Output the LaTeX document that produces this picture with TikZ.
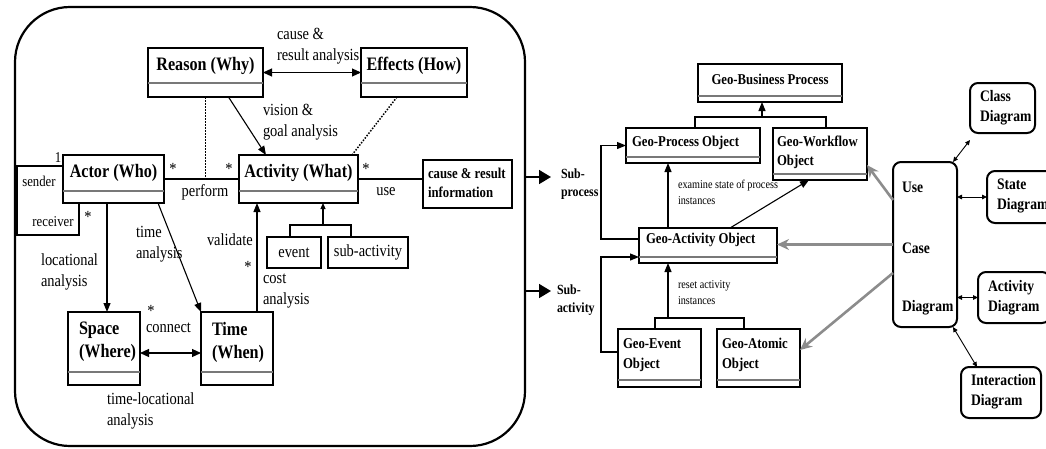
\documentclass[tikz,border=0pt]{standalone}
\usepackage{fontspec}
\newfontfamily\rf[FakeStretch=0.85]{Liberation Serif}
\usetikzlibrary{arrows.meta}
\definecolor{dgray}{RGB}{120,120,120}
\definecolor{agray}{RGB}{140,140,140}
\begin{document}
\begin{tikzpicture}[x=1pt,y=-1pt,
  every node/.style={inner sep=0pt, outer sep=0pt},
  lbox/.style={draw, line width=1.1pt, fill=white},
  gbox/.style={draw, line width=2.6pt, fill=white},
  rbox/.style={draw, line width=2pt, rounded corners=8pt, fill=white},
  frame/.style={draw, line width=2.2pt, rounded corners=55pt},
  divl/.style={dgray, line width=1.2pt},
  cname/.style={font=\rf\bfseries\fontsize{19}{23}\selectfont, align=left},
  lbl/.style={font=\rf\fontsize{17}{21}\selectfont, align=left},
  slbl/.style={font=\rf\fontsize{15}{18}\selectfont, align=left},
  sbold/.style={font=\rf\bfseries\fontsize{15}{19}\selectfont, align=left},
  gname/.style={font=\rf\bfseries\fontsize{15}{19.5}\selectfont, align=left},
  glbl/.style={font=\rf\fontsize{12}{16}\selectfont, align=left},
  rname/.style={font=\rf\bfseries\fontsize{16}{20}\selectfont, align=left},
  subl/.style={font=\rf\bfseries\fontsize{14}{17.5}\selectfont, align=left},
  conn/.style={line width=1.1pt},
  tri/.style={conn, -{Triangle[length=9pt,width=7pt]}},
  stri/.style={conn, -{Triangle[length=6pt,width=5pt]}},
  dtri/.style={conn, {Triangle[length=9pt,width=8pt]}-{Triangle[length=9pt,width=8pt]}},
  bigtri/.style={line width=1.6pt, -{Triangle[length=12pt,width=14pt]}},
  dotl/.style={line width=1.5pt, dash pattern=on 1.5pt off 1.5pt},
  garr/.style={agray, line width=2.6pt, -{Stealth[length=12pt,width=11pt]}},
  thin2/.style={line width=0.9pt, {Triangle[length=5pt,width=4.5pt]}-{Triangle[length=5pt,width=4.5pt]}}
]
\useasboundingbox (0,0) rectangle (1046,448);
\clip (0,0) rectangle (1046,448);

% ---------- left frame ----------
\node[frame, minimum width=510, minimum height=439] (frame) at (270,226.5) {};

% ---------- left boxes ----------
\node[lbox, minimum width=115, minimum height=49] (reason) at (205.5,72.5) {};
\node[lbox, minimum width=106, minimum height=49] (effects) at (414,72.5) {};
\node[lbox, minimum width=101, minimum height=48] (actor) at (113.5,179) {};
\node[lbox, minimum width=119, minimum height=48] (activity) at (298.5,179) {};
\node[lbox, minimum width=89, minimum height=48] (cri) at (467.5,184) {};
\node[lbox, minimum width=72, minimum height=73] (space) at (104,348.5) {};
\node[lbox, minimum width=72, minimum height=73] (time) at (237,348.5) {};
\node[lbox, minimum width=54, minimum height=31, lbl] (event) at (294,252.5) {event};
\node[lbox, minimum width=80, minimum height=31, lbl] (subact) at (368,252.5) {sub-activity};

\draw[divl] (148,83) -- (263,83);
\draw[divl] (361,83) -- (467,83);
\draw[divl] (63,191) -- (164,191);
\draw[divl] (239,191) -- (358,191);
\draw[divl] (68,372) -- (140,372);
\draw[divl] (201,372) -- (273,372);

\node[cname] (reasonT) at (205.5,66) {Reason (Why)};
\node[cname] (effectsT) at (414,66) {Effects (How)};
\node[cname] (actorT) at (113.5,173) {Actor (Who)};
\node[cname] (activityT) at (298.5,173) {Activity (What)};
\node[sbold, anchor=west] (criT) at (428,183) {cause \& result\\information};
\node[cname, anchor=west] (spaceT) at (79,342) {Space\\(Where)};
\node[cname, anchor=west] (timeT) at (212,342) {Time\\(When)};

% ---------- left labels ----------
\node[lbl, anchor=west] (lcause) at (277,46) {cause \&\\result analysis};
\node[lbl, anchor=west] (lvision) at (263,122) {vision \&\\goal analysis};
\node[lbl] (lperform) at (205,192) {perform};
\node[lbl] (luse) at (386,192) {use};
\node[lbl] (st1) at (173,169) {*};
\node[lbl] (st2) at (229,169) {*};
\node[lbl] (st3) at (366,169) {*};
\node[slbl] (lone) at (58,158) {1};
\node[slbl] (lsender) at (39,181) {sender};
\node[slbl] (lreceiver) at (53,222) {receiver};
\node[lbl] (st4) at (88,217) {*};
\node[lbl, anchor=west] (ltime) at (136,244) {time\\analysis};
\node[lbl, anchor=west] (lloc) at (41,272) {locational\\analysis};
\node[lbl] (st5) at (151,311) {*};
\node[lbl, anchor=west] (lconnect) at (146,328) {connect};
\node[lbl, anchor=west] (lvalidate) at (207,240) {validate};
\node[lbl] (st6) at (248,267) {*};
\node[lbl, anchor=west] (lcost) at (263,291) {cost\\analysis};
\node[lbl, anchor=west] (ltl) at (107,411) {time-locational\\analysis};

% ---------- left connectors ----------
\draw[dtri] (reason.east) -- (effects.west);
\draw[dotl] (reason.south) -- (reason.south |- actor.east);
\draw[tri] ([xshift=80.5pt]reason.south west) -- ([xshift=27pt]activity.north west);
\draw[dotl] ([xshift=36pt]effects.south west) -- ([xshift=113pt]activity.north west);
\draw[conn] (actor.east) -- (activity.west);
\draw[conn] (activity.east) -- (activity.east -| cri.west);
\coordinate (la) at (17,166);
\coordinate (lb) at (79,235);
\draw[conn] ([yshift=-11pt]actor.north west) -- (la) |- (lb) -- (lb |- actor.south);
\draw[tri] ([xshift=44pt]actor.south west) -- ([xshift=39pt]space.north west);
\draw[tri] ([xshift=-6pt]actor.south east) -- (time.north west);
\draw[tri] ([xshift=56pt]time.north west) -- ([xshift=18pt]activity.south west);
\draw[dtri] ([yshift=-4.5pt]space.east) -- ([yshift=-4.5pt]time.west);
\coordinate (j1) at (323,225);
\draw[conn] ([xshift=-4pt]event.north) |- (j1);
\draw[conn] ([xshift=-17pt]subact.north) |- (j1);
\draw[stri] (j1) -- (j1 |- activity.south);

% ---------- sub arrows ----------
\coordinate (spEnd) at (551,177);
\coordinate (saEnd) at (551,291);
\draw[bigtri] ([yshift=49.5pt]frame.east) -- (spEnd);
\draw[bigtri] ([yshift=-64.5pt]frame.east) -- (saEnd);
\node[subl, anchor=west] (lsubp) at (561,184) {Sub-\\process};
\node[subl, anchor=west] (lsuba) at (557,300) {Sub-\\activity};

% ---------- center boxes ----------
\node[gbox, minimum width=144, minimum height=38] (gbp) at (770,83) {};
\node[gbox, minimum width=134, minimum height=35] (gpo) at (693,145.5) {};
\node[gbox, minimum width=94, minimum height=52] (gwo) at (820,154) {};
\node[gbox, minimum width=138, minimum height=35] (gao) at (708,245.5) {};
\node[gbox, minimum width=83, minimum height=58] (geo) at (659.5,358) {};
\node[gbox, minimum width=83, minimum height=58] (gato) at (758.5,358) {};

\draw[divl] (698,96) -- (842,96);
\draw[divl] (626,157) -- (760,157);
\draw[divl] (773,174) -- (867,174);
\draw[divl] (639,257) -- (777,257);
\draw[divl] (618,380) -- (701,380);
\draw[divl] (717,380) -- (800,380);

\node[gname] (gbpT) at (770,79) {Geo-Business Process};
\node[gname, anchor=west] (gpoT) at (632,143) {Geo-Process Object};
\node[gname, anchor=west] (gwoT) at (777,152.5) {Geo-Workflow\\Object};
\node[gname, anchor=west] (gaoT) at (646,240) {Geo-Activity Object};
\node[gname, anchor=west] (geoT) at (623,355) {Geo-Event\\Object};
\node[gname, anchor=west] (gatoT) at (722,355) {Geo-Atomic\\Object};

\node[glbl, anchor=west] (lexam) at (678,192) {examine state of process\\instances};
\node[glbl, anchor=west] (lreset) at (678,293) {reset activity\\instances};

% ---------- center connectors ----------
\coordinate (j2) at (762,117);
\draw[conn] ([xshift=2pt]gpo.north) |- (j2);
\draw[conn] ([xshift=6pt]gwo.north) |- (j2);
\draw[tri] (j2) -- (j2 |- gbp.south);
\draw[tri] ([xshift=29pt]gao.north west) -- ([xshift=42pt]gpo.south west);
\draw[tri] ([xshift=91pt]gao.north west) -- ([xshift=36pt]gwo.south west);
\coordinate (lc) at (601,239);
\draw[tri] ([yshift=-11pt]gao.north west) -- (lc) |- (gpo.west);
\coordinate (ld) at (601,352);
\draw[tri] ([yshift=-23pt]geo.north west) -- (ld) |- ([yshift=-29pt]gao.north west);
\coordinate (j3) at (668,318);
\draw[conn] ([xshift=-4.5pt]geo.north) |- (j3);
\draw[conn] ([xshift=-14.5pt]gato.north) |- (j3);
\draw[tri] (j3) -- (j3 |- gao.south);

% ---------- right boxes ----------
\node[rbox, minimum width=64, minimum height=165] (uc) at (925,244.5) {};
\node[rname, anchor=west] (ucT1) at (902,187) {Use};
\node[rname, anchor=west] (ucT2) at (902,248) {Case};
\node[rname, anchor=west] (ucT3) at (902,308) {Diagram};
\node[rbox, minimum width=65, minimum height=50] (cd) at (1002.5,108) {};
\node[rname, anchor=west] (cdT) at (980,108) {Class\\Diagram};
\node[rbox, minimum width=72, minimum height=52] (sd) at (1023,197) {};
\node[rname, anchor=west] (sdT) at (997,196) {State\\Diagram};
\node[rbox, minimum width=72, minimum height=51] (ad) at (1014,297.5) {};
\node[rname, anchor=west] (adT) at (988,298) {Activity\\Diagram};
\node[rbox, minimum width=80, minimum height=51] (idg) at (1001,392.5) {};
\node[rname, anchor=west] (idT) at (971,392) {Interaction\\Diagram};

% ---------- right connectors ----------
\draw[garr] ([yshift=-38pt]uc.north west) -- ([yshift=-37pt]gwo.north east);
\draw[garr] (uc.west) -- (uc.west -| gao.east);
\draw[garr] ([yshift=-111pt]uc.north west) -- ([yshift=-21pt]gato.north east);
\draw[thin2] ([xshift=-4pt]uc.north east) -- ([yshift=-7pt]cd.south west);
\draw[thin2] (sd.west -| uc.east) -- (sd.west);
\draw[thin2] (ad.west -| uc.east) -- (ad.west);
\draw[thin2] ([xshift=-4pt]uc.south east) -- ([xshift=16pt]idg.north west);
\end{tikzpicture}
\end{document}
